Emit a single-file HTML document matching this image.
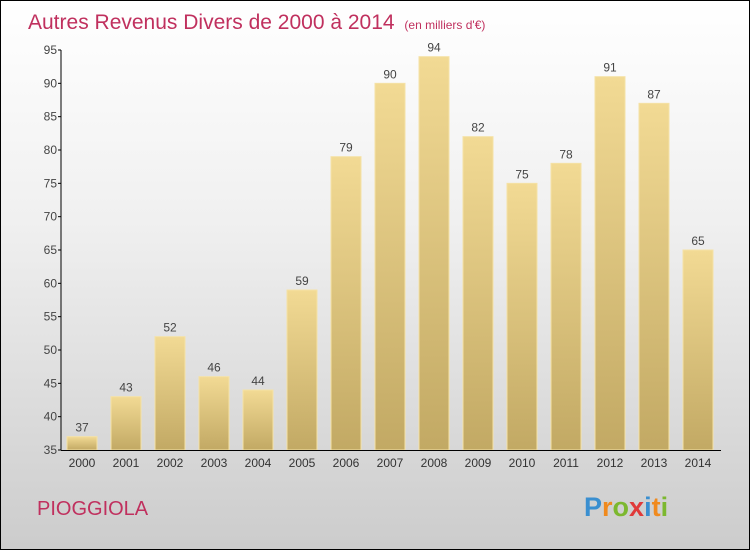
<!DOCTYPE html>
<html><head><meta charset="utf-8"><style>
body{margin:0}
#c{position:relative;width:748px;height:548px;border:1px solid #000;background:linear-gradient(#fff 0%,#f0f0f0 40%,#ccc 100%);font-family:"Liberation Sans",sans-serif;overflow:hidden}
</style></head><body>
<div id="c">
<svg width="748" height="548" id="s">
<defs><linearGradient id="g" x1="0" y1="0" x2="0" y2="1"><stop offset="0" stop-color="#f2da94"/><stop offset="1" stop-color="#c2a964"/></linearGradient></defs>
<text x="27" y="28" font-size="21" fill="#c0305e">Autres Revenus Divers de 2000 à 2014 <tspan font-size="12" dx="4">(en milliers d'€)</tspan></text>
<text x="36" y="514" font-size="20" fill="#c0305e">PIOGGIOLA</text>
<text x="583" y="515" font-size="27" font-weight="bold"><tspan fill="#3a8fd0">P</tspan><tspan fill="#f08a1e">r</tspan><tspan fill="#7cb82f">o</tspan><tspan fill="#e03a3a">x</tspan><tspan fill="#3a8fd0">i</tspan><tspan fill="#f08a1e">t</tspan><tspan fill="#7cb82f">i</tspan></text>
<g id="plot"></g>
</svg></div>
<script>
const years=["2000","2001","2002","2003","2004","2005","2006","2007","2008","2009","2010","2011","2012","2013","2014"];
const values=[37,43,52,46,44,59,79,90,94,82,75,78,91,87,65];
const ticks=[35,40,45,50,55,60,65,70,75,80,85,90,95];
const NS="http://www.w3.org/2000/svg";
const g=document.getElementById('plot');
const y=v=>449-(v-35)*400/60;
const x=i=>81+i*44;
function mk(t,a,txt){const e=document.createElementNS(NS,t);for(const k in a)e.setAttribute(k,a[k]);if(txt!=null)e.textContent=txt;g.appendChild(e);return e;}
years.forEach((yr,i)=>{
 const b=mk('rect',{x:x(i)-15,y:y(values[i]),width:30,height:449-y(values[i]),fill:'url(#g)',stroke:'#f5e2a6','stroke-width':1});
 
 
 const l=mk('text',{x:x(i),y:y(values[i])-5,'text-anchor':'middle','font-size':12,fill:'#444'},values[i]);
 
 
 const t=mk('text',{x:x(i),y:466,'text-anchor':'middle','font-size':12,fill:'#333'},yr);
 
 
});
ticks.forEach(v=>{
 mk('line',{x1:57,x2:60,y1:y(v),y2:y(v),stroke:'#000'});
 const t=mk('text',{x:56,y:y(v)+4,'text-anchor':'end','font-size':12,fill:'#444'},v);
 
 
});
const ya=mk('line',{x1:60,x2:60,y1:y(95),y2:449.5,stroke:'#000'});


const xa=mk('line',{x1:60,x2:720,y1:449.5,y2:449.5,stroke:'#000'});


</script>
</body></html>
